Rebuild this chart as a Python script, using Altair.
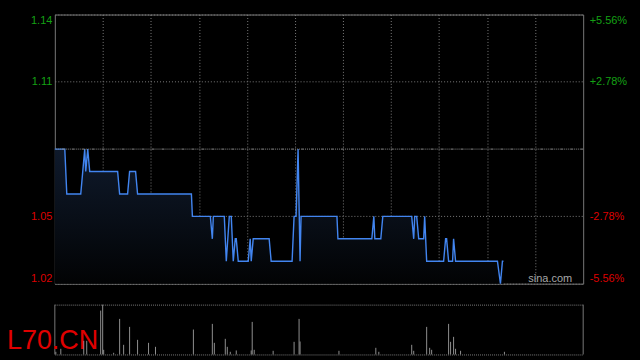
import altair as alt
import pandas as pd

# ---- data ----
line_t = [0, 10, 12, 26, 30, 31, 33, 35, 63, 65, 73, 75, 81, 83, 137, 138, 156, 158, 159, 170,
          172, 175, 177, 179, 181, 182, 184, 194, 196, 197, 199, 215, 217, 238, 240, 242, 244,
          246, 247, 283, 284, 318, 320, 321, 327, 329, 358, 360, 361, 363, 365, 370, 371, 373,
          390, 392, 393, 395, 399, 400, 402, 444, 447, 449, 450]
line_p = [1.08, 1.08, 1.06, 1.06, 1.08, 1.07, 1.08, 1.07, 1.07, 1.06, 1.06, 1.07, 1.07, 1.06,
          1.06, 1.05, 1.05, 1.04, 1.05, 1.05, 1.03, 1.05, 1.05, 1.03, 1.04, 1.04, 1.03, 1.03,
          1.04, 1.03, 1.04, 1.04, 1.03, 1.03, 1.05, 1.05, 1.08, 1.03, 1.05, 1.05, 1.04, 1.04,
          1.05, 1.04, 1.04, 1.05, 1.05, 1.04, 1.05, 1.05, 1.04, 1.04, 1.05, 1.03, 1.03, 1.04,
          1.04, 1.03, 1.03, 1.04, 1.03, 1.03, 1.02, 1.03, 1.03]
vol_t = [1, 6, 29, 32, 46, 48, 49, 59, 65, 69, 75, 83, 94, 101, 139, 158, 160, 171, 173, 176,
         182, 197, 198, 200, 219, 240, 245, 246, 285, 322, 325, 358, 360, 373, 376, 378, 395,
         397, 400, 402, 407, 451]
vol_v = [8, 17, 41, 41, 132, 150, 14, 5, 107, 29, 83, 44, 35, 23, 75, 92, 35, 47, 23, 8,
         12, 12, 98, 14, 11, 38, 107, 39, 11, 20, 8, 29, 11, 83, 20, 14, 92,
         38, 53, 17, 11, 8]
prev_close = 1.08
price_ticks = [1.02, 1.05, 1.11, 1.14]
vol_ticks = [0, 75, 150]
x_max = 530
x_grid = [x_max * k / 11 for k in range(1, 11)]
ticker = ["L70.CN"]
watermark = ["sina.com"]

price_df = pd.DataFrame({"t": line_t, "p": line_p})
vol_df = pd.DataFrame({"t": vol_t, "v": vol_v})

FONT = "Liberation Sans"
GRID = "#7a7a7a"
xs = alt.Scale(domain=[0, x_max], nice=False, zero=False)
ys = alt.Scale(domain=[1.02, 1.14], nice=False, zero=False)
vs = alt.Scale(domain=[0, 150], nice=False, zero=True)

label_color = {"condition": {"test": f"datum.value > {prev_close}", "value": "#14a014"},
               "value": "#dd0000"}

x_axis = alt.Axis(values=x_grid, labels=False, ticks=False, domain=False, grid=True,
                  gridColor=GRID, gridDash=[1, 2], title=None)
left_axis = alt.Axis(values=price_ticks, orient="left", title=None, ticks=False, domain=False,
                     grid=True, gridColor=GRID, gridDash=[1, 2], labelFlush=True,
                     labelPadding=3, labelFont=FONT, labelFontSize=11,
                     labelColor=label_color, format=".2f")
right_axis = alt.Axis(values=price_ticks, orient="right", title=None, ticks=False, domain=False,
                      grid=False, labelFlush=True, labelPadding=6, labelFont=FONT,
                      labelFontSize=11, labelColor=label_color,
                      labelExpr=f"(datum.value > {prev_close} ? '+' : '-') + "
                                f"format(abs(datum.value - {prev_close}) / {prev_close} * 100, '.2f') + '%'")

gradient = alt.Gradient(gradient="linear",
                        stops=[alt.GradientStop(color="#0f1a2c", offset=0),
                               alt.GradientStop(color="#020304", offset=1)],
                        x1=0, x2=0, y1=0, y2=1)

area = alt.Chart(price_df).mark_area(color=gradient, interpolate="linear").encode(
    x=alt.X("t:Q", scale=xs, axis=x_axis),
    y=alt.Y("p:Q", scale=ys, axis=left_axis),
    y2=alt.datum(1.02),
)
line = alt.Chart(price_df).mark_line(color="#4285f0", strokeWidth=1.4, interpolate="linear").encode(
    x=alt.X("t:Q", scale=xs, axis=x_axis),
    y=alt.Y("p:Q", scale=ys, axis=left_axis),
)
sina = alt.Chart(pd.DataFrame({"s": watermark})).mark_text(
    align="right", baseline="alphabetic", font=FONT, fontSize=11, color="#a8a8a8"
).encode(text="s:N", x=alt.value(519), y=alt.value(268))

prev_rule = alt.Chart(pd.DataFrame({"p": [prev_close]})).mark_rule(
    color="#8c8c8c", strokeWidth=1, strokeDash=[3, 1, 1, 1, 1, 1, 1, 1]
).encode(y=alt.Y("p:Q", scale=ys, axis=right_axis))

top = alt.layer(alt.layer(area, line, sina), prev_rule).resolve_scale(y="independent").properties(
    width=530, height=270, view=alt.ViewBackground(stroke="#777777")
)

vol_axis = alt.Axis(values=vol_ticks, labels=False, ticks=False, domain=False, grid=True,
                    gridColor=GRID, gridDash=[1, 1], title=None)
vbars = alt.Chart(vol_df).mark_rule(color="#8f8f8f", strokeWidth=1).encode(
    x=alt.X("t:Q", scale=xs, axis=None),
    y=alt.Y("v:Q", scale=vs, axis=vol_axis),
    y2=alt.datum(0),
)
borders = alt.Chart(pd.DataFrame({"edge": [0, x_max]})).mark_rule(color="#777777").encode(
    x=alt.X("edge:Q", scale=xs, axis=None),
    y=alt.datum(0),
    y2=alt.datum(150),
)
tick_text = alt.Chart(pd.DataFrame({"s": ticker})).mark_text(
    align="left", baseline="alphabetic", font=FONT, fontSize=27, color="#e00000"
).encode(text="s:N", x=alt.value(-48), y=alt.value(44.6))

bottom = alt.layer(vbars, borders, tick_text).properties(width=530, height=50)

chart = alt.vconcat(top, bottom, spacing=21, bounds="flush").properties(
    background="black",
    padding={"left": 6, "top": 13, "right": 12, "bottom": 8},
    autosize=alt.AutoSizeParams(type="pad"),
).configure_view(stroke="transparent")

chart.save("out.html", embed_options={"renderer": "svg", "actions": False})
